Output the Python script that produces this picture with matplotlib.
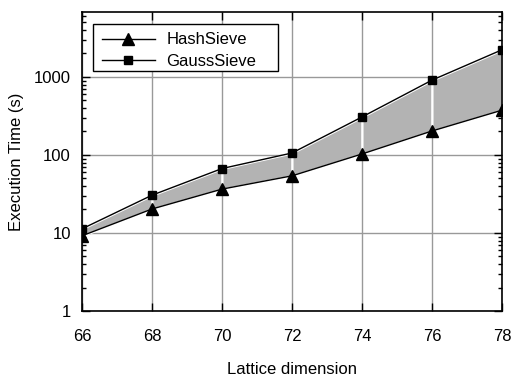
import matplotlib
matplotlib.use("Agg")
import matplotlib.pyplot as plt
from matplotlib.patches import Rectangle
import numpy as np

dims = [66, 68, 70, 72, 74, 76, 78]
hash_sieve = [9.2, 20.3, 36.5, 54, 103, 203, 375]
gauss_sieve = [11.3, 30.5, 67, 106, 307, 910, 2230]

plt.rcParams['font.family'] = ['Liberation Sans', 'DejaVu Sans']
plt.rcParams['font.size'] = 12

fig = plt.figure(figsize=(5.12, 3.78), dpi=100)
ax = fig.add_axes([82/512, 1-311/378, 420/512, 299/378])

x = np.array(dims, dtype=float)
lo = np.array(hash_sieve)
hi = np.array(gauss_sieve)
for i in range(len(x)-1):
    ax.fill_between(x[i:i+2], lo[i:i+2], hi[i:i+2], facecolor='#b3b3b3',
                    edgecolor='white', linewidth=1.5, zorder=2)

ax.plot(x, lo, color='black', marker='^', markersize=8, linewidth=1, label='HashSieve', zorder=4)
ax.plot(x, hi, color='black', marker='s', markersize=6, linewidth=1, label='GaussSieve', zorder=4)

ax.set_yscale('log')
ax.set_xlim(66, 78)
ax.set_ylim(1, 6800)
ax.set_xticks(dims)
ax.set_yticks([1, 10, 100, 1000])
ax.set_yticklabels(['1', '10', '100', '1000'])
ax.xaxis.set_minor_locator(matplotlib.ticker.NullLocator())
ax.grid(True, which='major', color='#999999', linewidth=1, zorder=1)
ax.set_axisbelow(True)
ax.tick_params(which='major', direction='in', length=6, top=True, right=True, width=1)
ax.tick_params(which='minor', direction='in', length=3, top=False, right=True, width=1)
ax.tick_params(axis='x', pad=13)
ax.tick_params(axis='y', pad=8)
for s in ax.spines.values():
    s.set_linewidth(1.2)

ax.set_xlabel('Lattice dimension', labelpad=13)
ax.set_ylabel('Execution Time (s)', labelpad=7)

# legend frame drawn as a rectangle (reference has wider right padding)
ax.add_patch(Rectangle((11/420, 1-59/299), 185/420, 47/299, transform=ax.transAxes,
                       facecolor='white', edgecolor='black', linewidth=1, zorder=5))
leg = ax.legend(loc='upper left', bbox_to_anchor=(12/420, 1-13/299), frameon=False,
                handlelength=3.2, borderaxespad=0,
                handletextpad=0.7, borderpad=0.45, labelspacing=0.4, fontsize=12)
leg.set_zorder(6)

fig.savefig('out.png', dpi=100)
